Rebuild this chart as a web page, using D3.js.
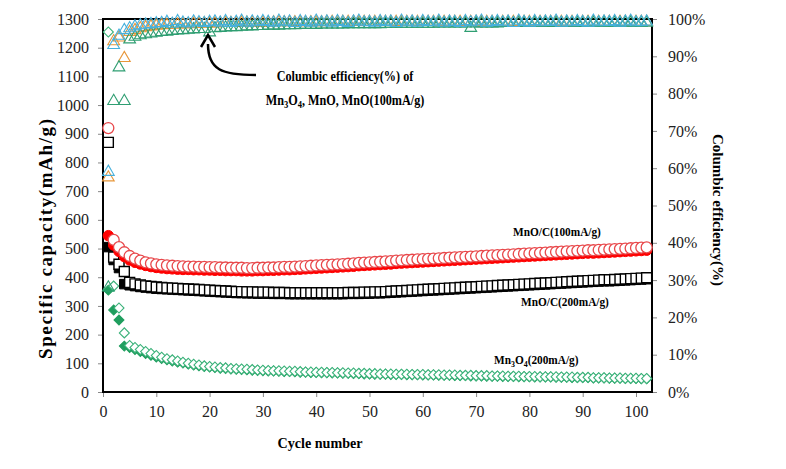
<!DOCTYPE html>
<html><head><meta charset="utf-8">
<script src="https://cdn.jsdelivr.net/npm/d3@7"></script>
<style>body{margin:0;background:#fff}svg{display:block}text{font-family:"Liberation Serif","Times New Roman",serif}</style>
</head><body>
<svg id="c" width="786" height="469"></svg>
<script>
// ---------- DATA ----------
const xTicks = [0,10,20,30,40,50,60,70,80,90,100];
const yTicks = [0,100,200,300,400,500,600,700,800,900,1000,1100,1200,1300];
const y2Ticks = [0,10,20,30,40,50,60,70,80,90,100];
// MnO/C 100 mA/g : open circles (discharge) and filled circles (charge)
const mnoC100Open = [920,530,505,487,474,465,458,452,448,445,
 443,441,440,439,438,437,437,436,436,435, 435,434,434,433,433,433,432,432,433,433,
 434,434,435,436,436,437,438,439,440,441, 442,443,444,445,446,447,448,450,451,452,
 453,454,455,456,458,459,460,461,462,463, 464,465,466,467,468,469,470,471,472,473,
 474,475,476,477,478,479,480,481,482,483, 484,485,486,487,488,489,490,491,492,493,
 494,494,495,496,497,498,499,500,501,502, 503,504];
const mnoC100Fill = [545,512,490,472,460,452,446,441,437,434,
 432,430,429,428,427,427,426,426,425,425, 424,424,423,423,423,422,422,422,423,423,
 424,424,425,426,426,427,428,429,430,431, 432,433,434,435,436,437,438,440,441,442,
 443,444,445,446,448,449,450,451,452,453, 454,455,456,457,458,459,460,461,462,463,
 464,465,466,467,468,469,470,471,472,473, 474,475,476,477,478,479,480,481,482,483,
 484,484,485,486,487,488,489,490,491,492, 493,494];
// MnO/C 200 mA/g : open squares and filled squares
const mnoC200Open = [870,470,445,420,382,377,373,370,368,366,
 364,363,362,361,360,359,358,357,356,355, 354,353,352,351,350,350,349,349,348,348,
 348,347,347,347,346,346,346,346,346,346, 346,346,346,346,346,347,347,347,348,348,
 349,349,350,351,352,353,354,355,356,357, 358,359,360,361,362,363,364,365,366,367,
 368,369,370,371,372,373,374,375,376,377, 378,379,380,381,382,383,384,385,386,387,
 388,389,390,391,391,392,393,394,395,396, 397,398];
const mnoC200Fill = [505,460,432,376,372,369,366,364,362,360,
 359,358,357,356,355,354,353,352,351,350, 349,348,347,346,345,345,344,344,343,343,
 343,342,342,342,341,341,341,341,341,341, 341,341,341,341,341,342,342,342,343,343,
 344,344,345,346,347,348,349,350,351,352, 353,354,355,356,357,358,359,360,361,362,
 363,364,365,366,367,368,369,370,371,372, 373,374,375,376,377,378,379,380,381,382,
 383,384,385,386,386,387,388,389,390,391, 392,393];
// Mn3O4 200 mA/g : open diamonds and filled diamonds
const mn3o4Open = [1255,369,293,206,162,155,148,141,134,127,
 121,116,112,108,104,100,97,94,91,89, 87,85,84,82,81,80,79,78,77,76,
 75,74,74,73,72,72,71,70,70,69, 69,68,68,67,67,66,66,65,65,64,
 64,63,63,63,62,62,62,61,61,61, 60,60,60,59,59,59,58,58,58,57,
 57,57,56,56,56,55,55,55,54,54, 54,53,53,53,53,52,52,52,51,51,
 51,50,50,50,49,49,49,48,48,48, 47,47];
const mn3o4Fill = [355,286,251,160,155,148,141,134,128,122,
 117,112,108,104,101,97,94,91,89,87, 85,83,82,80,79,78,77,76,75,74,
 73,73,72,71,71,70,69,69,68,68, 67,67,66,66,65,65,64,64,63,63,
 62,62,62,61,61,61,60,60,60,59, 59,59,58,58,58,57,57,57,56,56,
 56,55,55,55,54,54,54,53,53,53, 52,52,52,52,51,51,51,50,50,50,
 50,49,49,49,48,48,48,47,47,47, 46,46];
// Coulombic efficiency (%)
const ceMnOC100 = [59,93,95.5,97,97.5,98,98.3,98.5,98.6,98.8,
 98.9,99.2,98.7,99.4,99.0,98.8,99.3,99.1,98.9,99.2, 99.3,99.0,99.4,98.9,99.2,99.5,99.0,99.3,99.1,99.4,
 99.2,99.0,99.5,99.1,99.3,98.9,99.4,99.2,99.0,99.5, 99.1,99.3,99.0,99.4,99.2,98.9,99.3,99.5,99.1,99.2,
 99.0,99.4,99.2,99.3,98.9,99.5,99.1,99.3,99.0,99.4, 99.2,99.1,99.5,99.0,99.3,99.2,98.9,99.4,99.1,99.3,
 99.5,99.0,99.2,99.4,99.1,99.3,98.9,99.5,99.2,99.0, 99.4,99.1,99.3,99.2,99.5,99.0,99.3,99.1,99.4,99.2,
 99.0,99.5,99.1,99.3,99.2,99.4,99.0,99.3,99.5,99.1, 99.2,99.3];
const ceMn3O4 = [28,78,87,78,94.5,95.2,95.6,95.9,96.1,96.3,
 96.5,96.6,96.8,96.9,97.0,97.1,97.2,97.3,97.3,96.4, 97.5,97.6,97.7,97.8,97.8,97.9,98.0,98.0,98.1,98.1,
 98.2,98.2,98.2,98.3,98.3,98.3,98.4,98.4,98.4,98.4, 98.5,98.5,98.5,98.5,98.5,98.6,98.6,98.6,98.6,98.6,
 98.6,98.6,98.7,98.7,98.7,98.7,98.7,98.7,98.7,98.7, 98.7,98.7,98.8,98.8,98.8,98.8,98.8,98.8,97.6,98.8,
 98.8,98.8,98.8,98.8,98.9,98.9,98.9,98.9,98.9,98.9, 98.9,98.9,98.9,98.9,98.9,98.9,98.9,98.9,98.9,98.9,
 99.0,99.0,99.0,99.0,99.0,99.0,99.0,99.0,99.0,99.0, 99.0,99.0];
const ceMnOC200 = [57.5,94,95,89.5,96.5,97,97.5,97.8,98,98.2,
 98.3,98.4,98.5,98.5,98.6,98.6,98.7,98.7,98.8,98.8, 98.8,98.9,98.9,98.9,98.9,99.0,99.0,99.0,99.0,99.0,
 99.0,99.1,99.1,99.1,99.1,99.1,99.1,99.1,99.1,99.1, 99.1,99.2,99.2,99.2,99.2,99.2,99.2,99.2,99.2,99.2,
 99.2,99.2,99.2,99.2,99.2,99.2,99.2,99.2,99.2,99.2, 99.2,99.2,99.2,99.2,99.2,99.2,99.2,99.2,99.2,99.2,
 99.2,99.2,99.2,99.2,99.2,99.2,99.2,99.2,99.2,99.2, 99.2,99.2,99.2,99.2,99.2,99.2,99.2,99.2,99.2,99.2,
 99.2,99.2,99.2,99.2,99.2,99.2,99.2,99.2,99.2,99.2, 99.2,99.2];

// ---------- LAYOUT ----------
const svg = d3.select('#c');
const L = 103, R = 652, T = 19, B = 392;
const x = d3.scaleLinear().domain([0,103]).range([L,R]);
const y = d3.scaleLinear().domain([0,1300]).range([B,T]);
const y2 = d3.scaleLinear().domain([0,100]).range([B,T]);
svg.append('rect').attr('width',786).attr('height',469).attr('fill','#fff');

// axes
const ax = svg.append('g').attr('transform',`translate(0,${B})`)
  .call(d3.axisBottom(x).tickValues(xTicks).tickSize(5).tickPadding(6).tickFormat(d=>String(d)));
const ay = svg.append('g').attr('transform',`translate(${L},0)`)
  .call(d3.axisLeft(y).tickValues(yTicks).tickSize(5).tickPadding(9).tickFormat(d=>String(d)));
const ay2 = svg.append('g').attr('transform',`translate(${R},0)`)
  .call(d3.axisRight(y2).tickValues(y2Ticks).tickSize(5).tickPadding(11).tickFormat(d=>d+'%'));
[ax,ay,ay2].forEach(g=>{
  g.select('.domain').remove();
  g.selectAll('.tick line').attr('stroke','#888');
  g.selectAll('.tick text').attr('font-size',16).attr('fill','#222')
   .attr('font-family','"Liberation Serif",serif');
});
ax.selectAll('.tick text').attr('dy','0.85em');

// frame
svg.append('rect').attr('x',L).attr('y',T).attr('width',R-L).attr('height',B-T)
  .attr('fill','none').attr('stroke','#000').attr('stroke-width',2);

const plot = svg.append('g');
function series(vals, scale, sym, size, fill, stroke, sw, rot){
  const p = d3.symbol().type(sym).size(size)();
  plot.append('g').selectAll('path').data(vals).join('path')
    .attr('d',p)
    .attr('transform',(d,i)=>`translate(${x(i+1)},${scale(d)})`+(rot?` rotate(${rot})`:''))
    .attr('fill',fill).attr('stroke',stroke).attr('stroke-width',sw);
}
series(mn3o4Fill, y, d3.symbolSquare, 50, '#1f9e5e', '#1f9e5e', 1, 45);
series(mn3o4Open, y, d3.symbolSquare, 50, '#fff', '#3bb27a', 1.1, 45);
series(mnoC200Fill, y, d3.symbolSquare, 90, '#000', '#000', 1, 0);
series(mnoC200Open, y, d3.symbolSquare, 100, '#fff', '#000', 1.4, 0);
series(mnoC100Fill, y, d3.symbolCircle, 85, '#ff0000', '#ff0000', 1, 0);
series(mnoC100Open, y, d3.symbolCircle, 95, '#fff', '#e8474a', 1.3, 0);
series(ceMnOC200, y2, d3.symbolTriangle, 60, 'none', '#e8973a', 1.1, 0);
series(ceMn3O4, y2, d3.symbolTriangle, 60, 'none', '#2f9e72', 1.1, 0);
series(ceMnOC100, y2, d3.symbolTriangle, 60, 'none', '#46b0dc', 1.1, 0);

// titles
svg.append('text').attr('transform','translate(52,239) rotate(-90)')
  .attr('text-anchor','middle').attr('font-size',19).attr('font-weight','bold')
  .attr('textLength',240).attr('lengthAdjust','spacing').text('Specific capacity(mAh/g)');
svg.append('text').attr('transform','translate(713,210) rotate(90)')
  .attr('text-anchor','middle').attr('font-size',15).attr('font-weight','bold')
  .text('Columbic efficiency(%)');
svg.append('text').attr('x',320).attr('y',448).attr('text-anchor','middle')
  .attr('font-size',15).attr('font-weight','bold')
  .attr('textLength',85).attr('lengthAdjust','spacingAndGlyphs').text('Cycle number');

// annotation (horizontally condensed bold serif)
function subLabel(parent, cx, cy, sx, size, parts, anchor){
  const g = parent.append('g').attr('transform',`translate(${cx},${cy}) scale(${sx},1)`);
  const t = g.append('text').attr('font-weight','bold').attr('font-size',size)
    .attr('text-anchor',anchor);
  parts.forEach(p=>{
    const s = t.append('tspan').text(p.t);
    if(p.sub){ s.attr('font-size',size*0.7).attr('dy',size*0.22); }
    else if(p.back){ s.attr('dy',-size*0.22); }
  });
  return t;
}
subLabel(svg, 345, 81, 0.87, 14, [{t:'Columbic efficiency(%) of'}], 'middle');
subLabel(svg, 345, 105, 0.87, 14, [{t:'Mn'},{t:'3',sub:1},{t:'O',back:1},{t:'4',sub:1},{t:', MnO, MnO(100mA/g)',back:1}], 'middle');
svg.append('path').attr('d','M256,75 C222,75 208,70 208,44')
  .attr('fill','none').attr('stroke','#000').attr('stroke-width',2.5);
svg.append('path').attr('d','M201,47 L208,35 L215,47')
  .attr('fill','none').attr('stroke','#000').attr('stroke-width',2.5);

// series labels
subLabel(svg, 513, 236, 0.87, 13, [{t:'MnO/C(100mA/g)'}], 'start');
subLabel(svg, 521, 306, 0.87, 13, [{t:'MnO/C(200mA/g)'}], 'start');
subLabel(svg, 494, 364, 0.87, 13, [{t:'Mn'},{t:'3',sub:1},{t:'O',back:1},{t:'4',sub:1},{t:'(200mA/g)',back:1}], 'start');
</script>
</body></html>
